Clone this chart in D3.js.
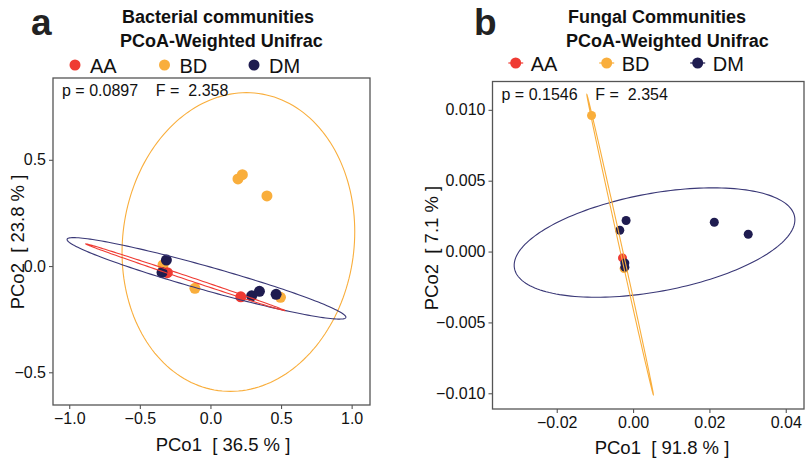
<!DOCTYPE html>
<html>
<head>
<meta charset="utf-8">
<script src="https://cdn.jsdelivr.net/npm/d3@7"></script>
<style>
  body { margin: 0; background: #fff; }
  text { font-family: "Liberation Sans", Arial, sans-serif; }
</style>
</head>
<body>
<svg width="805" height="458"></svg>
<script>
const groups = ["AA", "BD", "DM"];
const colors = ["#EF3B33", "#F9AE3C", "#1F1C50"];

// panel a - bacterial communities
const bacGroup = ["BD", "BD", "BD", "BD", "BD", "BD", "AA", "AA", "DM", "DM", "DM", "DM", "DM"];
const bacX = [0.195, 0.226, 0.40, -0.11, 0.496, -0.336, -0.305, 0.215, -0.312, -0.343, 0.292, 0.347, 0.465];
const bacY = [0.41, 0.43, 0.33, -0.105, -0.147, 0.005, -0.031, -0.145, 0.028, -0.03, -0.14, -0.119, -0.133];
// ellipse: centre + two conjugate semi-axes (data units)
const bacEllGroup = ["BD", "DM", "AA"];
const bacEllCx = [0.198, -0.028, -0.178];
const bacEllCy = [0.113, -0.058, -0.053];
const bacEllAx = [0.057, 0.987, 0.705];
const bacEllAy = [0.703, -0.184, -0.157];
const bacEllBx = [0.822, 0.023, 0.004];
const bacEllBy = [0, 0.054, 0.008];
const bacXTicks = [-1, -0.5, 0, 0.5, 1];
const bacYTicks = [-0.5, 0, 0.5];

// panel b - fungal communities
const funGroup = ["BD", "BD", "AA", "DM", "DM", "DM", "DM", "DM", "DM"];
const funX = [-0.01088, -0.00235, -0.00277, -0.00183, -0.00348, 0.02128, 0.03017, -0.00217, -0.00215];
const funY = [0.0096, -0.0012, -0.00045, 0.00219, 0.0015, 0.00207, 0.00122, -0.0008, -0.0011];
const funEllGroup = ["DM", "BD"];
const funEllCx = [0.00562, -0.0034];
const funEllCy = [0.000636, 0.00049];
const funEllAx = [0.01529, 0.00871];
const funEllAy = [0.003863, -0.01059];
const funEllBx = [0.03344, 0.00033];
const funEllBy = [0, 0.00002];
const funXTicks = [-0.02, 0, 0.02, 0.04];
const funYTicks = [-0.01, -0.005, 0, 0.005, 0.01];

const color = d3.scaleOrdinal().domain(groups).range(colors);
const svg = d3.select("svg");
const minus = s => s.replace("-", "\u2212");

function panel(o) {
  const x = d3.scaleLinear().domain(o.xDom).range([o.left, o.right]);
  const y = d3.scaleLinear().domain(o.yDom).range([o.bottom, o.top]);
  const g = svg.append("g");

  // points
  const pts = o.px.map((v, i) => ({x: v, y: o.py[i], g: o.pg[i]}));
  g.selectAll(".pt").data(pts).enter().append("circle")
    .attr("cx", d => x(d.x))
    .attr("cy", d => y(d.y))
    .attr("r", o.r)
    .attr("fill", d => color(d.g));

  // ellipses on top
  const line = d3.line().x(d => x(d[0])).y(d => y(d[1])).curve(d3.curveLinearClosed);
  o.eg.forEach((grp, i) => {
    const path = d3.range(0, 360, 2).map(a => {
      const t = a * Math.PI / 180;
      return [o.ecx[i] + o.eax[i] * Math.cos(t) + o.ebx[i] * Math.sin(t),
              o.ecy[i] + o.eay[i] * Math.cos(t) + o.eby[i] * Math.sin(t)];
    });
    g.append("path").attr("d", line(path))
      .attr("fill", "none")
      .attr("stroke", grp == "DM" ? "#3A3877" : color(grp))
      .attr("stroke-width", 1.1);
  });

  // box
  g.append("rect")
    .attr("x", o.left).attr("y", o.top)
    .attr("width", o.right - o.left).attr("height", o.bottom - o.top)
    .attr("fill", "none").attr("stroke", "#555").attr("stroke-width", 1.3);

  const xa = g.append("g")
    .attr("transform", "translate(0," + o.bottom + ")")
    .call(d3.axisBottom(x).tickValues(o.xt).tickFormat(d => minus(o.xf(d))).tickSize(4).tickPadding(4));
  const ya = g.append("g")
    .attr("transform", "translate(" + o.left + ",0)")
    .call(d3.axisLeft(y).tickValues(o.yt).tickFormat(d => minus(o.yf(d))).tickSize(4).tickPadding(3));
  [xa, ya].forEach(a => {
    a.select(".domain").remove();
    a.selectAll(".tick line").attr("stroke", "#555").attr("stroke-width", 1.1);
    a.selectAll(".tick text").attr("fill", "#111").style("font-size", "16px")
      .style("font-family", "Liberation Sans, Arial, sans-serif");
  });

  // axis titles
  g.append("text").attr("x", o.xtX).attr("y", o.xtY)
    .attr("text-anchor", "middle").style("font-size", "18.5px").style("white-space", "pre")
    .attr("fill", "#111").text(o.xTitle);
  g.append("text").attr("transform", "translate(" + o.ytX + "," + o.ytY + ") rotate(-90)")
    .attr("text-anchor", "middle").style("font-size", "18.5px").style("white-space", "pre")
    .attr("fill", "#111").text(o.yTitle);

  // stats label
  g.append("text").attr("x", o.left + 9).attr("y", o.top + 18)
    .style("font-size", "16px").style("white-space", "pre").attr("fill", "#111")
    .text(o.stat);

  // title + panel letter
  g.append("text").attr("x", o.titleX).attr("y", 23).style("font-size", "18px")
    .style("font-weight", "bold").attr("fill", "#111").text(o.title[0]);
  g.append("text").attr("x", o.titleX - 2).attr("y", 47).style("font-size", "18px")
    .style("font-weight", "bold").attr("fill", "#111").text(o.title[1]);
  g.append("text").attr("x", o.letterX).attr("y", 35).style("font-size", "37px")
    .style("font-weight", "bold").attr("fill", "#222").text(o.letter);

  // legend
  const lg = g.selectAll(".lg").data(groups).enter().append("g")
    .attr("transform", (d, i) => "translate(" + (o.legX + i * o.legStep) + "," + o.legY + ")");
  if (o.legLine) {
    lg.append("line").attr("x1", -7.5).attr("x2", 7.5)
      .attr("stroke", d => color(d)).attr("stroke-width", 1.2);
  }
  lg.append("circle").attr("r", 5.5).attr("fill", d => color(d));
  lg.append("text").attr("x", 15).attr("y", 7.5).style("font-size", "20px")
    .attr("fill", "#111").text(d => d);
}

panel({
  left: 53, right: 370, top: 78, bottom: 405,
  xDom: [-1.115, 1.13], yDom: [-0.654, 0.885],
  px: bacX, py: bacY, pg: bacGroup, r: 5.5,
  eg: bacEllGroup, ecx: bacEllCx, ecy: bacEllCy, eax: bacEllAx, eay: bacEllAy, ebx: bacEllBx, eby: bacEllBy,
  xt: bacXTicks, yt: bacYTicks, xf: d3.format(".1f"), yf: d3.format(".1f"),
  xTitle: "PCo1  [ 36.5 % ]", xtX: 223, xtY: 451,
  yTitle: "PCo2  [ 23.8 % ]", ytX: 24, ytY: 242,
  stat: "p = 0.0897    F =  2.358",
  title: ["Bacterial communities", "PCoA-Weighted Unifrac"], titleX: 122, letter: "a", letterX: 31,
  legX: 75, legY: 65, legStep: 89.5, legLine: false
});

panel({
  left: 492.5, right: 804, top: 81.5, bottom: 409,
  xDom: [-0.03683, 0.04478], yDom: [-0.01111, 0.0120],
  px: funX, py: funY, pg: funGroup, r: 4.5,
  eg: funEllGroup, ecx: funEllCx, ecy: funEllCy, eax: funEllAx, eay: funEllAy, ebx: funEllBx, eby: funEllBy,
  xt: funXTicks, yt: funYTicks, xf: d3.format(".2f"), yf: d3.format(".3f"),
  xTitle: "PCo1  [ 91.8 % ]", xtX: 662, xtY: 454,
  yTitle: "PCo2  [ 7.1 % ]", ytX: 438, ytY: 248,
  stat: "p = 0.1546    F =  2.354",
  title: ["Fungal Communities", "PCoA-Weighted Unifrac"], titleX: 568, letter: "b", letterX: 474,
  legX: 515.7, legY: 63, legStep: 91, legLine: true
});
</script>
</body>
</html>
